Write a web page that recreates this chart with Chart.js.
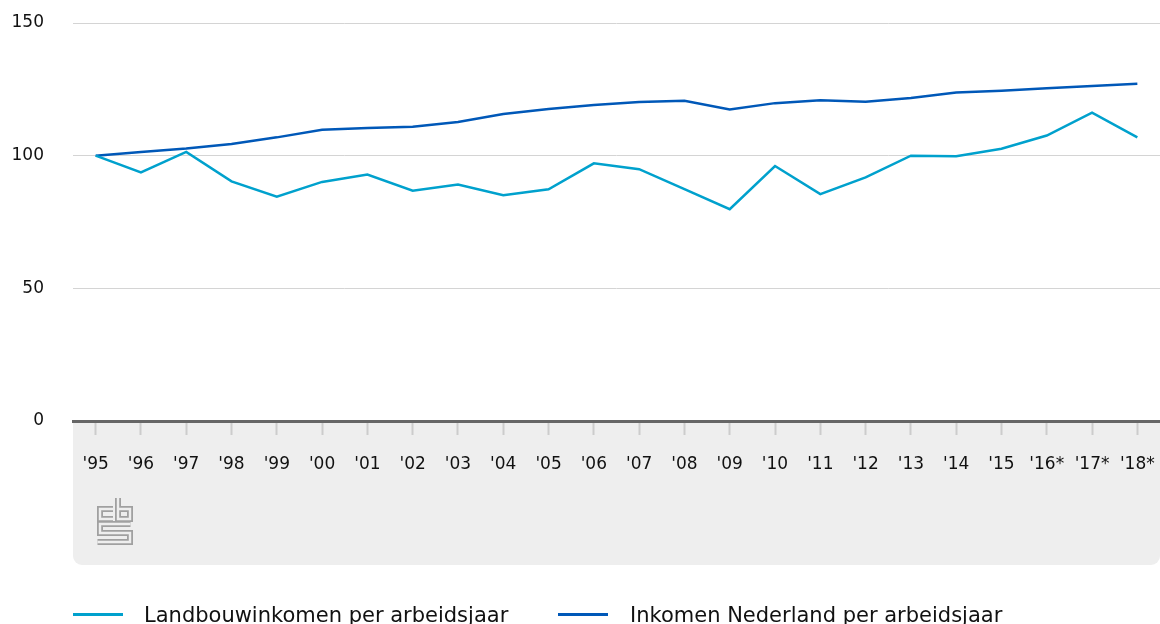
<!DOCTYPE html>
<html>
<head>
<meta charset="utf-8">
<script src="https://cdn.jsdelivr.net/npm/chart.js@4/dist/chart.umd.min.js"></script>
<style>
  html, body { margin: 0; padding: 0; background: #fff; overflow: hidden; }
  #wrap { position: relative; width: 1160px; height: 624px; }
  #chart { position: absolute; left: 0; top: 0; }
  .swatch { position: absolute; height: 3px; width: 50px; top: 613px; }
  .lbl { position: absolute; top: 603px; font: 21px "DejaVu Sans", sans-serif; line-height: 24px; color: #111; white-space: nowrap; }
</style>
</head>
<body>
<div id="wrap">
  <canvas id="chart" width="1160" height="624"></canvas>
  <div class="swatch" style="left:73px;background:#00a1cd"></div>
  <div class="lbl" style="left:144px">Landbouwinkomen per arbeidsjaar</div>
  <div class="swatch" style="left:558px;background:#0058b8"></div>
  <div class="lbl" style="left:630px">Inkomen Nederland per arbeidsjaar</div>
</div>
<script>
const years = ["'95", "'96", "'97", "'98", "'99", "'00", "'01", "'02", "'03", "'04", "'05", "'06",
               "'07", "'08", "'09", "'10", "'11", "'12", "'13", "'14", "'15", "'16*", "'17*", "'18*"];
const landbouw = [100, 93.7, 101.4, 90.3, 84.5, 90.1, 92.9, 86.8, 89.1, 85.1, 87.3, 97.1,
                  94.9, 87.4, 79.8, 96.1, 85.5, 91.8, 100, 99.8, 102.6, 107.6, 116.2, 106.9];
const nederland = [100, 101.4, 102.7, 104.4, 106.9, 109.8, 110.4, 110.9, 112.7, 115.7, 117.6, 119.1,
                   120.2, 120.7, 117.4, 119.8, 120.9, 120.3, 121.7, 123.8, 124.5, 125.4, 126.3, 127.1];
const yMin = 0, yMax = 150, yStep = 50;

const font = { family: '"DejaVu Sans", sans-serif', size: 17 };

// grijze band onder de x-as plus cbs-logo
const bandPlugin = {
  id: 'band',
  beforeDraw(chart) {
    const { ctx, chartArea } = chart;
    const xs = chart.scales.x;
    ctx.save();
    ctx.fillStyle = '#eeeeee';
    ctx.beginPath();
    ctx.roundRect(chartArea.left, chartArea.bottom, chartArea.right - chartArea.left, xs.bottom - chartArea.bottom, [0, 0, 9, 9]);
    ctx.fill();

    // logo
    const ox = 97, oy = 498;
    const paths = [
      [[16, 11], [3, 11], [3, 21], [16, 21]],
      [[21, 0], [21, 21], [33, 21], [33, 11], [21, 11]],
      [[33.5, 26], [3, 26], [3, 35], [33, 35], [33, 44], [0.5, 44]]
    ];
    ctx.lineJoin = 'miter';
    ctx.lineCap = 'butt';
    [[6, '#a0a0a0'], [2.4, '#eeeeee']].forEach(([w, c]) => {
      ctx.lineWidth = w;
      ctx.strokeStyle = c;
      paths.forEach(p => {
        ctx.beginPath();
        p.forEach(([x, y], i) => i ? ctx.lineTo(ox + x, oy + y) : ctx.moveTo(ox + x, oy + y));
        ctx.stroke();
      });
    });
    ctx.restore();
  }
};

new Chart(document.getElementById('chart'), {
  type: 'line',
  data: {
    labels: years,
    datasets: [{
      label: 'Landbouwinkomen per arbeidsjaar',
      data: landbouw,
      borderColor: '#00a1cd',
      borderWidth: 2.5,
      pointRadius: 0,
      tension: 0
    }, {
      label: 'Inkomen Nederland per arbeidsjaar',
      data: nederland,
      borderColor: '#0058b8',
      borderWidth: 2.5,
      pointRadius: 0,
      tension: 0
    }]
  },
  options: {
    responsive: false,
    animation: false,
    layout: { padding: { top: 23, bottom: 59, left: 0, right: 0 } },
    plugins: { legend: { display: false }, tooltip: { enabled: false } },
    scales: {
      x: {
        offset: true,
        afterFit(scale) {
          scale.height = 144;
          scale.paddingLeft = 0;
          scale.paddingRight = 0;
        },
        grid: { drawOnChartArea: false, drawTicks: true, tickLength: 14, tickColor: '#cccccc', tickWidth: 2, offset: false },
        border: { display: true, color: '#666666', width: 3 },
        ticks: { padding: 19, color: '#111', font, maxRotation: 0, autoSkip: false }
      },
      y: {
        min: yMin,
        max: yMax,
        afterFit(scale) {
          scale.width = 73;
          scale.paddingTop = 0;
          scale.paddingBottom = 0;
        },
        ticks: { stepSize: yStep, padding: 29, color: '#111', font },
        grid: { color: '#d4d4d4', lineWidth: 1, drawTicks: false },
        border: { display: false }
      }
    }
  },
  plugins: [bandPlugin]
});
</script>
</body>
</html>
